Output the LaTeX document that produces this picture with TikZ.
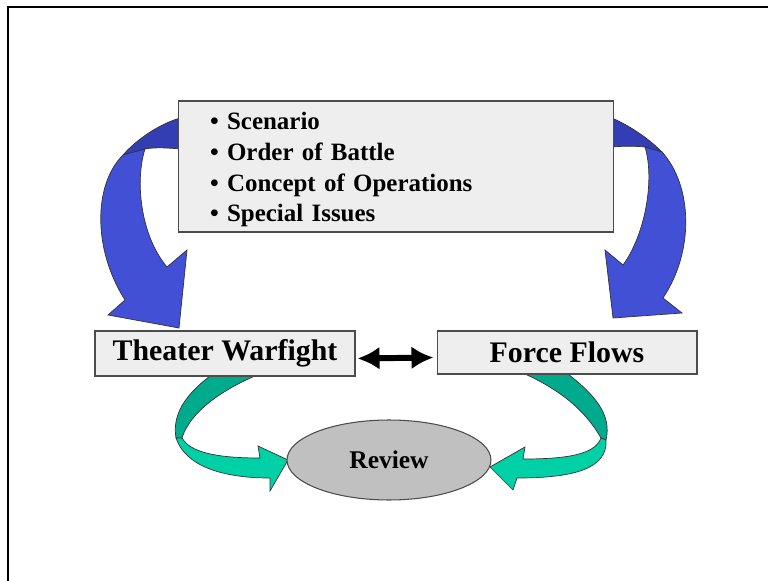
\documentclass[tikz,border=0pt]{standalone}
\usepackage{fontspec}
\setmainfont{Liberation Serif}
\usepackage{tikz}
\usetikzlibrary{arrows.meta}
\usetikzlibrary{shapes.geometric}
\definecolor{boxgray}{RGB}{238,238,238}
\definecolor{ovalgray}{RGB}{192,192,192}
\definecolor{flowblue}{RGB}{66,80,214}
\definecolor{flowbluedark}{RGB}{52,62,180}
\definecolor{flowgreen}{RGB}{0,208,166}
\definecolor{flowgreendark}{RGB}{0,170,140}

\begin{document}
\begin{tikzpicture}[x=0.02cm, y=-0.02cm,
	box/.style={rectangle, draw=black!70, line width=0.6pt, fill=boxgray, inner sep=0pt, font=\fontsize{17}{20}\selectfont\bfseries},
	ribbon/.style={draw=black!80, line width=0.4pt}]
	\useasboundingbox (0,0) rectangle (768,581);
	\draw[line width=1.1pt] (8,581) -- (8,7) -- (768,7);
	
	\filldraw[ribbon, fill=flowbluedark] (180,118) .. controls (160,124) and (138,138) .. (123,155) -- (145,149) .. controls (155,147) and (170,148) .. (180,149) -- cycle;
	\filldraw[ribbon, fill=flowblue] (123,155) .. controls (93,185) and (93,250) .. (125,300) -- (108,315) -- (179,328) -- (187,250) -- (167,267) .. controls (140,235) and (135,180) .. (145,149) -- cycle;
	
	\filldraw[ribbon, fill=flowbluedark] (612,118) .. controls (630,126) and (648,138) .. (662,152) -- (645,147) .. controls (635,146) and (622,146) .. (612,147) -- cycle;
	\filldraw[ribbon, fill=flowblue] (662,152) .. controls (692,185) and (695,250) .. (663,298) -- (682,313) -- (613,318) -- (605,250) -- (623,265) .. controls (645,235) and (655,180) .. (645,147) -- cycle;
	
	\filldraw[ribbon, fill=flowgreendark] (210,376) .. controls (185,395) and (172,415) .. (176,438) -- (182,438) .. controls (190,412) and (222,390) .. (255,376) -- cycle;
	\filldraw[ribbon, fill=flowgreen] (176,438) .. controls (185,465) and (220,478) .. (270,478) -- (270,491) -- (288,460) -- (258,446) -- (260,458) .. controls (215,458) and (190,452) .. (182,438) -- cycle;
	
	\filldraw[ribbon, fill=flowgreendark] (568,374) .. controls (595,395) and (612,415) .. (606,440) -- (601,438) .. controls (585,410) and (560,390) .. (525,374) -- cycle;
	\filldraw[ribbon, fill=flowgreen] (606,440) .. controls (608,470) and (570,478) .. (517,478) -- (513,490) -- (490,467) -- (525,447) -- (523,459) .. controls (565,459) and (595,455) .. (601,438) -- cycle;
	
	\node[box, minimum width=8.72cm, minimum height=2.62cm, text width=7.44cm, align=left, font=\fontsize{14.2}{17.5}\selectfont\bfseries] (L) at (396,166.5) {\rule{0pt}{13.5pt}• Scenario\\• Order of Battle\\• Concept of Operations\\• Special Issues};
	\node[box, minimum width=5.2cm, minimum height=0.9cm] (TW) at (225,353.5) {Theater Warfight};
	\node[box, minimum width=5.2cm, minimum height=0.86cm] (FF) at (567,352.5) {Force Flows};
	\node[ellipse, draw=black!70, line width=0.6pt, fill=ovalgray, minimum width=4.08cm, minimum height=1.6cm, inner sep=0pt, font=\fontsize{14.5}{17}\selectfont\bfseries] (R) at (389,460) {Review};
	
	\draw[{Latex[length=0.44cm,width=0.46cm]}-{Latex[length=0.44cm,width=0.46cm]}, line width=3.4pt, shorten <=0.04cm, shorten >=0.06cm] ([yshift=-0.1cm]TW.east) -- ([yshift=-0.1cm]FF.west);
\end{tikzpicture}
\end{document}
